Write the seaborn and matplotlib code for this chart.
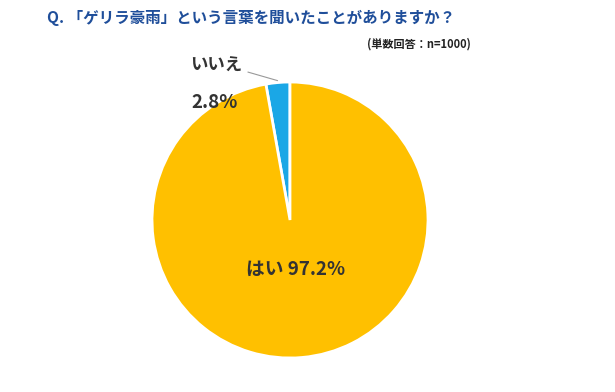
import matplotlib
matplotlib.use("Agg")
import matplotlib.pyplot as plt
import seaborn as sns

labels = ["いいえ", "はい"]
values = [2.8, 97.2]
colors = ["#1AA7E6", "#FFC000"]

title = "Q. 「ゲリラ豪雨」という言葉を聞いたことがありますか？"
note = "(単数回答：n=1000)"

sns.set_theme(style="white")
plt.rcParams['font.family'] = ['Noto Sans CJK JP', 'DejaVu Sans']

fig = plt.figure(figsize=(6.15, 3.92), dpi=100)
ax = fig.add_axes([0.2247, 0.0515, 0.4937, 0.7745])

wedges, _ = ax.pie(values, colors=colors, startangle=90, counterclock=True,
                   wedgeprops=dict(edgecolor="white", linewidth=2))
ax.set_xlim(-1.1, 1.1)
ax.set_ylim(-1.1, 1.1)
ax.set_aspect("equal")
ax.axis("off")

txt = "#333333"
ax.text(-0.536, 1.116, labels[0], ha="center", va="center", fontsize=12.5,
        fontweight="bold", color=txt)
ax.text(-0.543, 0.855, f"{values[0]}%", ha="center", va="center", fontsize=13.5,
        fontweight="bold", color=txt)
ax.text(0.043, -0.355, f"{labels[1]} {values[1]}%", ha="center", va="center",
        fontsize=13.5, fontweight="bold", color=txt)
ax.plot([-0.305, -0.09], [1.072, 1.01], color="#999999", lw=0.8)

fig.text(0.408, 0.955, title, ha="center", va="center", fontsize=11.2,
         fontweight="bold", color="#1F4E9A")
fig.text(0.765, 0.887, note, ha="right", va="center", fontsize=8,
         fontweight="bold", color="#222222")

fig.savefig("out.png", dpi=100)
